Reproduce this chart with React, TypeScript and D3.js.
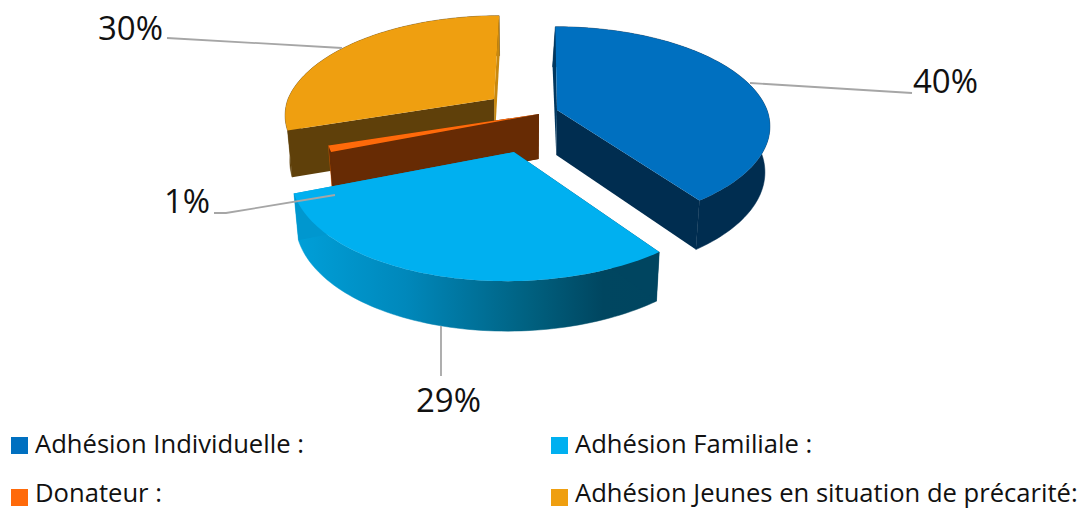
import React from 'react';
import * as d3 from 'd3';

const categories = ['Adhésion Individuelle :', 'Adhésion Familiale :', 'Donateur :', 'Adhésion Jeunes en situation de précarité:'];
const values = [40, 29, 1, 30];
const topColors = ['#0070c0', '#00b0f0', '#ff6a0a', '#ef9f10'];

// how each exploded slice sits in the tilted view
const views = [
  { ax: 557, ay: 110, R: 210, S: 97, k: 0.165, skewFar: 2, skewNear: 0, lean: 2, startEdge: '#00375f', endEdge: '#002d50', outer: '#002d50' },
  { ax: 514, ay: 152, R: 218, S: 105, k: 0.187, skewFar: 0, skewNear: -6, lean: 0, startEdge: '#004560', endEdge: '#0097cf', outer: 'url(#cyanWall)' },
  { ax: 539, ay: 114, R: 210, S: 97, k: 0.165, skewFar: 0, skewNear: 0, lean: 0, startEdge: '#672b04', endEdge: '#672b04', outer: '#e86405' },
  { ax: 494, ay: 99, R: 206, S: 97, k: 0.165, skewFar: -6, skewNear: 0, lean: 0, startEdge: '#5f400a', endEdge: '#c8880f', outer: '#5f400a' },
];
const drawOrder = [3, 2, 0, 1];

const labels = [
  { text: '40%', x: 913, y: 93, line: [[750, 83], [912, 93]] },
  { text: '29%', x: 416, y: 412, line: [[441, 326], [441, 376]] },
  { text: '1%', x: 164, y: 213, line: [[335, 195], [226, 213], [214, 213]] },
  { text: '30%', x: 98, y: 40, line: [[342, 48], [167, 38]] },
];

const legendItems = [
  { i: 0, x: 11, y: 437, base: 453 },
  { i: 1, x: 551, y: 437, base: 453 },
  { i: 2, x: 11, y: 489, base: 502 },
  { i: 3, x: 551, y: 489, base: 502 },
];

const FONT = '"Open Sans", Lato, sans-serif';
const toPath = d3.line<number[]>().x(d => d[0]).y(d => d[1]);

type View = typeof views[number];

const project = (view: View, angle: number, r = 1) => {
  const u = Math.sin(angle) * r;
  const v = -Math.cos(angle) * r;
  const w = 1 - view.k * v;
  const skew = v < 0 ? view.skewFar : view.skewNear;
  return [view.ax + (view.R * u + skew * v) / w, view.ay + (view.S * v) / w, v];
};

// the underside is a bit smaller and lower than the top face
const sink = (view: View, p: number[]) => {
  const x = 520 + (p[0] - 520) * 0.98 + view.lean * Math.min(p[2], 0);
  return [x, p[1] + 45 + 5 * p[2]];
};

const App: React.FC = () => {
  const arcs = d3.pie<number>().sort(null)(values);

  const slices = drawOrder.map(i => {
    const view = views[i];
    const arc = arcs[i];
    const steps = Math.max(2, Math.ceil((arc.endAngle - arc.startAngle) * 40));
    const rim = d3.range(steps + 1).map(s =>
      project(view, arc.startAngle + ((arc.endAngle - arc.startAngle) * s) / steps)
    );
    const apex = [view.ax, view.ay, 0];
    const first = rim[0];
    const last = rim[rim.length - 1];
    const wall = [...rim, ...rim.map(p => sink(view, p)).reverse()];
    const edgeA = { pts: [apex, first, sink(view, first), sink(view, apex)], fill: view.startEdge, v: first[2] };
    const edgeB = { pts: [apex, last, sink(view, last), sink(view, apex)], fill: view.endEdge, v: last[2] };
    const edges = [edgeA, edgeB].sort((a, b) => a.v - b.v);
    return { i, view, wall, edges, top: [apex, ...rim] };
  });

  return (
    <svg
      width={1083}
      height={510}
      style={{ position: 'fixed', left: 0, top: 0, display: 'block', background: '#fff' }}
    >
      <defs>
        <linearGradient id="cyanWall" gradientUnits="userSpaceOnUse" x1={298} x2={657} y1={0} y2={0}>
          <stop offset="0%" stopColor="#009fd8" />
          <stop offset="30%" stopColor="#0088bb" />
          <stop offset="65%" stopColor="#00607f" />
          <stop offset="85%" stopColor="#004660" />
          <stop offset="100%" stopColor="#004560" />
        </linearGradient>
      </defs>

      {slices.map(s => (
        <g key={s.i}>
          <path d={toPath(s.wall) + 'Z'} fill={s.view.outer} stroke={s.view.outer} strokeWidth={0.5} />
          {s.edges.map((e, j) => (
            <path key={j} d={toPath(e.pts) + 'Z'} fill={e.fill} />
          ))}
          <path d={toPath(s.top) + 'Z'} fill={topColors[s.i]} />
        </g>
      ))}

      {labels.map(l => (
        <g key={l.text}>
          <path d={toPath(l.line) ?? ''} fill="none" stroke="#a6a6a6" strokeWidth={1.8} />
          <text x={l.x} y={l.y} fontFamily={FONT} fontSize={33} fill="#111">
            {l.text}
          </text>
        </g>
      ))}

      {legendItems.map(d => (
        <g key={d.i}>
          <rect x={d.x} y={d.y} width={17} height={17} fill={topColors[d.i]} />
          <text x={d.x + 24} y={d.base} fontFamily={FONT} fontSize={25.6} fill="#111">
            {categories[d.i]}
          </text>
        </g>
      ))}
    </svg>
  );
};

export default App;
